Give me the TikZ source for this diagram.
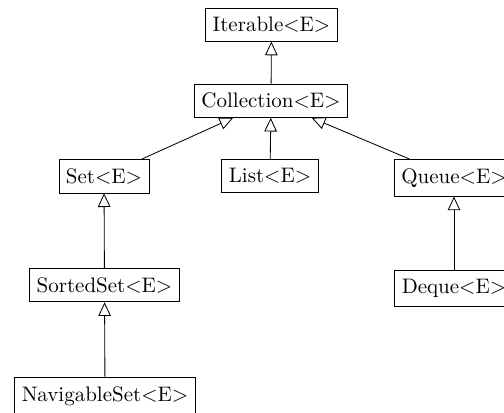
\documentclass[tikz,border=0pt]{standalone}
\usetikzlibrary{arrows.meta}
\begin{document}
\begin{tikzpicture}[every node/.style = {draw, rectangle, anchor=north, inner ysep=4.25pt},
                inherits/.style = {-{Triangle[open, length=6.5pt, width=6pt]}}
            ]
            \useasboundingbox (0,0) rectangle (8.437,-6.897);
            \node (iterable) at (4.545,-0.126) {Iterable<E>};
            \node (collection) at (4.537,-1.398) {Collection<E>};
            \node (set) at (1.741,-2.662) {Set<E>};
            \node (list) at (4.520,-2.662) {List<E>};
            \node (queue) at (7.600,-2.662) {Queue<E>};
            \node (sortedset) at (1.749,-4.486) {SortedSet<E>};
            \node (deque) at (7.600,-4.520) {Deque<E>};
            \node (navigableset) at (1.758,-6.311) {NavigableSet<E>};
            \draw[inherits] (collection) -- (iterable);
            \draw[inherits] (set) -- (collection);
            \draw[inherits] (list) -- (collection);
            \draw[inherits] (queue) -- (collection);
            \draw[inherits] (sortedset) -- (set);
            \draw[inherits] (navigableset) -- (sortedset);
            \draw[inherits] (deque) -- (queue);
        \end{tikzpicture}
\end{document}
